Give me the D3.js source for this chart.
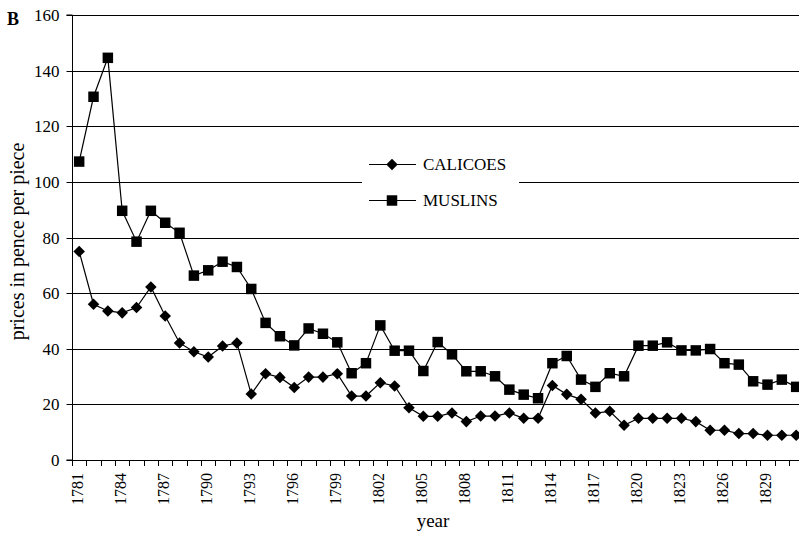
<!DOCTYPE html>
<html>
<head>
<meta charset="utf-8">
<script src="https://cdn.jsdelivr.net/npm/d3@7"></script>
<style>
  body { margin: 0; background: #fff; }
  svg { display: block; }
  svg text { font-family: "Liberation Serif", "DejaVu Serif", serif; fill: #000; }
</style>
</head>
<body>
<svg id="chart" width="799" height="536"></svg>
<script>
// Prices of calicoes and muslins, pence per piece, 1781-1831
const years = d3.range(1781, 1832);
const calicoes = [75.0, 56.0, 53.6, 52.9, 54.8, 62.2, 51.8, 42.1, 38.9, 37.0,
  41.0, 42.1, 23.7, 31.0, 29.7, 26.1, 29.8, 29.8, 31.0, 23.0,
  23.0, 27.8, 26.6, 18.8, 15.7, 15.7, 16.9, 13.8, 15.8, 15.8,
  16.9, 15.0, 15.0, 26.8, 23.6, 21.8, 16.9, 17.5, 12.5, 15.0,
  15.0, 15.0, 15.0, 13.8, 10.7, 10.7, 9.5, 9.5, 8.9, 8.9, 8.9];
const muslins = [107.3, 130.6, 144.6, 89.6, 78.5, 89.6, 85.3, 81.7, 66.3, 68.2,
  71.3, 69.4, 61.5, 49.3, 44.5, 41.2, 47.3, 45.4, 42.3, 31.2,
  34.8, 48.4, 39.3, 39.3, 32.0, 42.4, 38.0, 31.9, 31.9, 30.1,
  25.3, 23.5, 22.2, 34.8, 37.4, 28.9, 26.3, 31.2, 30.1, 41.1,
  41.1, 42.3, 39.4, 39.4, 39.9, 34.8, 34.3, 28.3, 27.1, 28.9, 26.3];
const yTicks = [0, 20, 40, 60, 80, 100, 120, 140, 160];
const xLabelYears = years.filter(y => (y - 1781) % 3 === 0 && y <= 1829);
const seriesNames = ["CALICOES", "MUSLINS"];

const svg = d3.select("#chart");
const plotLeft = 72, plotTop = 15, plotBottom = 460;
const band = 14.34;

const x = d3.scaleBand().domain(years).range([plotLeft, plotLeft + band * years.length]).padding(0);
const y = d3.scaleLinear().domain([0, 160]).range([plotBottom, plotTop]);
const cx = d => x(d) + x.bandwidth() / 2;

// horizontal gridlines
svg.append("g")
  .selectAll("line")
  .data(yTicks.filter(v => v > 0))
  .join("line")
  .attr("x1", plotLeft).attr("x2", 799)
  .attr("y1", d => Math.round(y(d)) + 0.5).attr("y2", d => Math.round(y(d)) + 0.5)
  .attr("stroke", "#000").attr("stroke-width", 1);

// y axis
const yAxis = svg.append("g")
  .attr("transform", `translate(${plotLeft + 0.5},0)`)
  .call(d3.axisLeft(y).tickValues(yTicks).tickSize(6).tickPadding(7));
yAxis.attr("font-family", null);
yAxis.selectAll("text").attr("font-size", 17);
yAxis.selectAll("line").attr("stroke", "#000");
yAxis.select(".domain").attr("stroke", "#000").attr("d", `M-6,${plotTop}H0V${plotBottom}H-6`);
yAxis.selectAll(".tick").attr("transform", d => `translate(0,${Math.round(y(d)) + 0.5})`);

// x axis: baseline, ticks at category boundaries, labels every third year
svg.append("line")
  .attr("x1", plotLeft).attr("x2", 799)
  .attr("y1", plotBottom + 0.5).attr("y2", plotBottom + 0.5)
  .attr("stroke", "#000");
const boundaries = years.map(d => x(d)).concat([x(years[years.length - 1]) + x.bandwidth()]);
svg.append("g")
  .selectAll("line")
  .data(boundaries)
  .join("line")
  .attr("x1", d => Math.round(d) + 0.5)
  .attr("x2", d => Math.round(d) + 0.5)
  .attr("y1", plotBottom).attr("y2", plotBottom + 6)
  .attr("stroke", "#000");

const xAxis = svg.append("g")
  .attr("transform", `translate(0,${plotBottom})`)
  .call(d3.axisBottom(x).tickValues(xLabelYears).tickSize(0).tickFormat(d3.format("d")));
xAxis.attr("font-family", null);
xAxis.select(".domain").remove();
xAxis.selectAll("text")
  .attr("font-size", 16)
  .attr("text-anchor", "end")
  .attr("transform", "rotate(-90)")
  .attr("x", -13).attr("y", -2).attr("dy", "0.35em");

// axis titles
svg.append("text")
  .attr("transform", `translate(24,241.5) rotate(-90)`)
  .attr("text-anchor", "middle")
  .attr("font-size", 20)
  .text("prices in pence per piece");
svg.append("text")
  .attr("x", 433).attr("y", 527)
  .attr("text-anchor", "middle")
  .attr("font-size", 19)
  .text("year");

// panel letter
svg.append("text")
  .attr("x", 7).attr("y", 25)
  .attr("font-size", 18).attr("font-weight", "bold")
  .text("B");

// series
const line = d3.line().x((d, i) => cx(years[i])).y(d => y(d));
const diamond = d3.symbol().type(d3.symbolDiamond2 || d3.symbolDiamond).size(85);
const square = d3.symbol().type(d3.symbolSquare).size(110);

function drawSeries(values, symbolGen) {
  const g = svg.append("g");
  g.append("path").datum(values).attr("d", line)
    .attr("fill", "none").attr("stroke", "#000").attr("stroke-width", 1.2);
  g.selectAll("path.m").data(values).join("path")
    .attr("class", "m")
    .attr("transform", (d, i) => `translate(${cx(years[i])},${y(d)})`)
    .attr("d", symbolGen).attr("fill", "#000");
}
drawSeries(muslins, square);
drawSeries(calicoes, diamond);

// legend
const lg = svg.append("g");
lg.append("rect").attr("x", 362).attr("y", 146).attr("width", 157).attr("height", 70).attr("fill", "#fff");
const items = [
  { name: seriesNames[0], sym: diamond, yy: 164 },
  { name: seriesNames[1], sym: square, yy: 200 }
];
items.forEach(it => {
  lg.append("line").attr("x1", 369).attr("x2", 416).attr("y1", it.yy + 0.5).attr("y2", it.yy + 0.5)
    .attr("stroke", "#000").attr("stroke-width", 1.2);
  lg.append("path").attr("transform", `translate(392,${it.yy + 0.5})`).attr("d", it.sym).attr("fill", "#000");
  lg.append("text").attr("x", 423).attr("y", it.yy).attr("dy", "0.35em")
    .attr("font-size", 17).text(it.name);
});
</script>
</body>
</html>
